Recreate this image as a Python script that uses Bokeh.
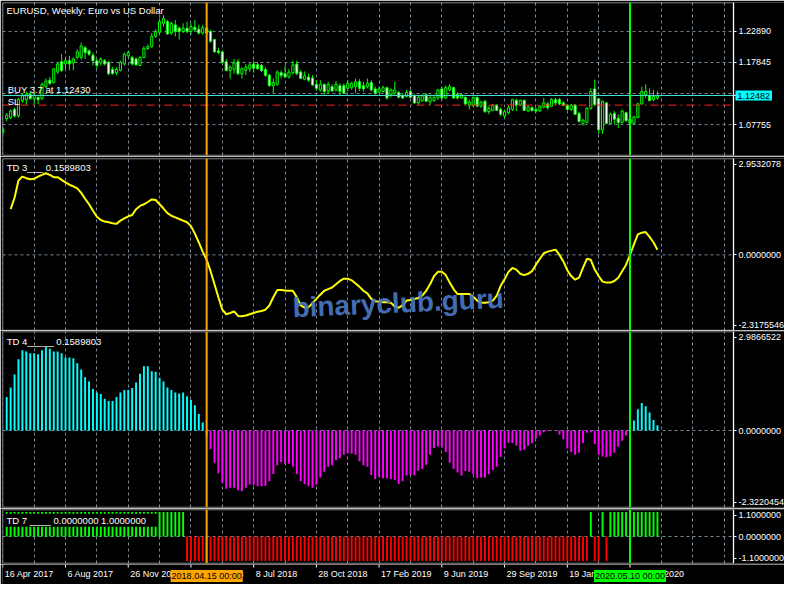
from bokeh.plotting import figure
from bokeh.layouts import column
from bokeh.models import Range1d, FixedTicker, Grid, Span, Label, BoxAnnotation
from bokeh.core.properties import value
from bokeh.embed import file_html
from bokeh.resources import INLINE

# ---------------- data (weekly EURUSD, bar index 0 = 16 Apr 2017) ----------------
opens = [1.0653, 1.0874, 1.0890, 1.1022, 1.0917, 1.1165, 1.1181, 1.1270, 1.1196, 1.1218,
         1.1196, 1.1392, 1.1497, 1.1460, 1.1629, 1.1798, 1.1761, 1.1814, 1.1777, 1.1867,
         1.1867, 1.2025, 1.1973, 1.1904, 1.1814, 1.1777, 1.1814, 1.1788, 1.1672, 1.1619,
         1.1656, 1.1761, 1.1893, 1.1867, 1.1841, 1.1735, 1.1867, 1.2010, 1.2041, 1.2210,
         1.2274, 1.2421, 1.2448, 1.2263, 1.2395, 1.2342, 1.2289, 1.2342, 1.2289, 1.2358,
         1.2326, 1.2263, 1.2342, 1.2289, 1.2157, 1.1973, 1.1957, 1.1798, 1.1656, 1.1672,
         1.1798, 1.1603, 1.1656, 1.1682, 1.1761, 1.1746, 1.1735, 1.1672, 1.1577, 1.1408,
         1.1429, 1.1619, 1.1603, 1.1550, 1.1619, 1.1761, 1.1629, 1.1513, 1.1550, 1.1534,
         1.1429, 1.1339, 1.1429, 1.1323, 1.1392, 1.1339, 1.1408, 1.1408, 1.1365, 1.1376,
         1.1392, 1.1471, 1.1408, 1.1392, 1.1460, 1.1355, 1.1302, 1.1313, 1.1376, 1.1260,
         1.1286, 1.1297, 1.1249, 1.1233, 1.1313, 1.1249, 1.1128, 1.1165, 1.1260, 1.1144,
         1.1165, 1.1207, 1.1355, 1.1207, 1.1339, 1.1376, 1.1270, 1.1207, 1.1218, 1.1091,
         1.1091, 1.1218, 1.1075, 1.1154, 1.0985, 1.1006, 1.1091, 1.1022, 1.0917, 1.0969,
         1.1022, 1.1170, 1.1091, 1.1170, 1.0996, 1.1049, 1.1022, 1.0996, 1.1059, 1.1112,
         1.1075, 1.1181, 1.1181, 1.1128, 1.1091, 1.1022, 1.1091, 1.0954, 1.0795, 1.0811,
         1.1038, 1.1355, 1.1196, 1.0690, 1.1128, 1.0795, 1.0954, 1.0880, 1.0811, 1.0969,
         1.0864, 1.0795, 1.0890, 1.1112, 1.1260, 1.1249, 1.1181, 1.1207]
highs = [1.0732, 1.0964, 1.1022, 1.1049, 1.1207, 1.1286, 1.1313, 1.1313, 1.1286, 1.1233,
         1.1460, 1.1524, 1.1550, 1.1693, 1.1788, 1.1920, 1.1851, 1.1893, 1.1867, 1.1999,
         1.2105, 1.2052, 1.1999, 1.1946, 1.1841, 1.1867, 1.1841, 1.1814, 1.1709, 1.1709,
         1.1814, 1.1946, 1.1973, 1.1893, 1.1867, 1.1883, 1.2052, 1.2078, 1.2263, 1.2326,
         1.2501, 1.2553, 1.2474, 1.2448, 1.2474, 1.2369, 1.2421, 1.2448, 1.2421, 1.2474,
         1.2395, 1.2395, 1.2369, 1.2316, 1.2168, 1.2025, 1.1973, 1.1841, 1.1735, 1.1841,
         1.1841, 1.1709, 1.1761, 1.1788, 1.1814, 1.1788, 1.1761, 1.1709, 1.1603, 1.1524,
         1.1656, 1.1656, 1.1735, 1.1682, 1.1814, 1.1814, 1.1656, 1.1640, 1.1603, 1.1577,
         1.1497, 1.1497, 1.1445, 1.1471, 1.1429, 1.1482, 1.1445, 1.1445, 1.1497, 1.1471,
         1.1524, 1.1513, 1.1471, 1.1524, 1.1497, 1.1392, 1.1392, 1.1408, 1.1392, 1.1365,
         1.1471, 1.1323, 1.1286, 1.1339, 1.1339, 1.1270, 1.1249, 1.1270, 1.1286, 1.1233,
         1.1260, 1.1355, 1.1392, 1.1408, 1.1429, 1.1392, 1.1302, 1.1286, 1.1233, 1.1181,
         1.1233, 1.1233, 1.1165, 1.1181, 1.1075, 1.1112, 1.1112, 1.1049, 1.1022, 1.1091,
         1.1196, 1.1196, 1.1181, 1.1181, 1.1091, 1.1075, 1.1049, 1.1091, 1.1207, 1.1144,
         1.1207, 1.1207, 1.1207, 1.1154, 1.1112, 1.1112, 1.1112, 1.0985, 1.0864, 1.1059,
         1.1365, 1.1508, 1.1207, 1.1165, 1.1144, 1.0969, 1.0996, 1.0943, 1.1022, 1.0985,
         1.0890, 1.0917, 1.1128, 1.1392, 1.1429, 1.1365, 1.1339, 1.1313]
lows = [1.0616, 1.0827, 1.0864, 1.0890, 1.0890, 1.1128, 1.1101, 1.1181, 1.1101, 1.1112,
        1.1181, 1.1365, 1.1418, 1.1445, 1.1603, 1.1629, 1.1682, 1.1656, 1.1656, 1.1841,
        1.1830, 1.1841, 1.1893, 1.1735, 1.1682, 1.1735, 1.1735, 1.1577, 1.1587, 1.1577,
        1.1640, 1.1735, 1.1867, 1.1735, 1.1735, 1.1724, 1.1851, 1.1988, 1.2025, 1.2184,
        1.2252, 1.2369, 1.2237, 1.2237, 1.2210, 1.2157, 1.2263, 1.2263, 1.2237, 1.2289,
        1.2237, 1.2237, 1.2237, 1.2105, 1.1946, 1.1920, 1.1761, 1.1640, 1.1524, 1.1603,
        1.1577, 1.1524, 1.1577, 1.1629, 1.1619, 1.1672, 1.1629, 1.1550, 1.1392, 1.1286,
        1.1408, 1.1524, 1.1534, 1.1524, 1.1587, 1.1577, 1.1513, 1.1497, 1.1471, 1.1408,
        1.1323, 1.1313, 1.1260, 1.1286, 1.1302, 1.1313, 1.1260, 1.1270, 1.1313, 1.1339,
        1.1286, 1.1323, 1.1313, 1.1365, 1.1313, 1.1260, 1.1286, 1.1302, 1.1181, 1.1218,
        1.1260, 1.1207, 1.1196, 1.1218, 1.1207, 1.1112, 1.1091, 1.1144, 1.1144, 1.1091,
        1.1144, 1.1181, 1.1181, 1.1196, 1.1313, 1.1196, 1.1181, 1.1196, 1.1091, 1.1022,
        1.1059, 1.1059, 1.1049, 1.0969, 1.0943, 1.0996, 1.0996, 1.0917, 1.0880, 1.0943,
        1.0996, 1.0996, 1.1075, 1.0996, 1.0985, 1.0985, 1.0969, 1.0985, 1.1038, 1.1022,
        1.1059, 1.1091, 1.1091, 1.1075, 1.1006, 1.0996, 1.0932, 1.0811, 1.0758, 1.0795,
        1.1022, 1.1075, 1.0626, 1.0626, 1.0785, 1.0785, 1.0785, 1.0721, 1.0795, 1.0827,
        1.0758, 1.0785, 1.0880, 1.1101, 1.1207, 1.1154, 1.1154, 1.1181]
closes = [1.0705, 1.0932, 1.0996, 1.0917, 1.1181, 1.1249, 1.1270, 1.1196, 1.1249, 1.1181,
          1.1429, 1.1482, 1.1445, 1.1682, 1.1761, 1.1656, 1.1814, 1.1761, 1.1841, 1.1957,
          1.2052, 1.1946, 1.1920, 1.1814, 1.1735, 1.1841, 1.1761, 1.1603, 1.1603, 1.1672,
          1.1788, 1.1920, 1.1946, 1.1761, 1.1746, 1.1867, 1.2010, 1.2041, 1.2210, 1.2289,
          1.2448, 1.2501, 1.2247, 1.2421, 1.2289, 1.2289, 1.2342, 1.2289, 1.2369, 1.2316,
          1.2263, 1.2353, 1.2263, 1.2131, 1.1957, 1.1946, 1.1788, 1.1656, 1.1709, 1.1777,
          1.1603, 1.1682, 1.1709, 1.1746, 1.1693, 1.1682, 1.1656, 1.1577, 1.1408, 1.1460,
          1.1629, 1.1577, 1.1550, 1.1629, 1.1746, 1.1603, 1.1524, 1.1566, 1.1497, 1.1418,
          1.1365, 1.1429, 1.1313, 1.1429, 1.1323, 1.1429, 1.1313, 1.1286, 1.1445, 1.1445,
          1.1471, 1.1365, 1.1355, 1.1445, 1.1339, 1.1286, 1.1355, 1.1376, 1.1207, 1.1339,
          1.1339, 1.1218, 1.1207, 1.1297, 1.1218, 1.1128, 1.1218, 1.1244, 1.1154, 1.1218,
          1.1218, 1.1339, 1.1207, 1.1376, 1.1392, 1.1207, 1.1207, 1.1260, 1.1112, 1.1144,
          1.1218, 1.1075, 1.1138, 1.0985, 1.1038, 1.1091, 1.1006, 1.0943, 1.0985, 1.1049,
          1.1181, 1.1091, 1.1170, 1.1006, 1.1059, 1.1006, 1.0996, 1.1075, 1.1128, 1.1049,
          1.1181, 1.1128, 1.1112, 1.1091, 1.1022, 1.1091, 1.0943, 1.0827, 1.0848, 1.1038,
          1.1313, 1.1101, 1.0690, 1.1154, 1.0795, 1.0943, 1.0864, 1.0811, 1.0996, 1.0837,
          1.0795, 1.0901, 1.1112, 1.1313, 1.1313, 1.1165, 1.1233, 1.1248]

# TD 3 line, bars 2..167
td3 = [1.40, 1.75, 2.28, 2.40, 2.35, 2.32, 2.33, 2.40, 2.45, 2.50,
       2.45, 2.38, 2.38, 2.30, 2.22, 2.15, 2.10, 2.04, 1.90, 1.72,
       1.55, 1.35, 1.17, 1.07, 1.02, 1.00, 0.97, 0.95, 1.05, 1.12,
       1.18, 1.22, 1.40, 1.50, 1.55, 1.62, 1.70, 1.68, 1.55, 1.42,
       1.28, 1.20, 1.15, 1.10, 1.05, 1.00, 0.88, 0.65, 0.38, 0.10,
       -0.15, -0.50, -0.90, -1.30, -1.68, -1.82, -1.78, -1.73, -1.87, -1.88,
       -1.86, -1.82, -1.78, -1.74, -1.72, -1.68, -1.55, -1.30, -1.08, -1.08,
       -1.09, -1.10, -1.10, -1.30, -1.55, -1.62, -1.60, -1.48, -1.35, -1.22,
       -1.10, -1.05, -1.00, -0.90, -0.80, -0.73, -0.73, -0.78, -0.88, -0.98,
       -1.10, -1.18, -1.35, -1.42, -1.43, -1.45, -1.45, -1.47, -1.58, -1.62,
       -1.55, -1.40, -1.38, -1.35, -1.32, -1.25, -1.10, -0.90, -0.65, -0.52,
       -0.52, -0.62, -0.85, -1.05, -1.20, -1.20, -1.20, -1.20, -1.28, -1.40,
       -1.47, -1.47, -1.45, -1.40, -1.25, -0.95, -0.75, -0.52, -0.40, -0.45,
       -0.58, -0.62, -0.58, -0.50, -0.30, -0.12, 0.05, 0.10, 0.13, 0.16,
       0.00, -0.20, -0.47, -0.65, -0.76, -0.70, -0.40, -0.12, -0.15, -0.45,
       -0.65, -0.82, -0.85, -0.85, -0.80, -0.70, -0.50, -0.30, 0.00, 0.32,
       0.63, 0.68, 0.70, 0.55, 0.38, 0.16]

# TD 4 histogram, bars 1..167
td4 = [1.01, 1.30, 1.69, 2.15, 2.42, 2.38, 2.33, 2.33, 2.30, 2.42,
       2.52, 2.47, 2.38, 2.38, 2.33, 2.20, 2.20, 2.18, 2.03, 1.84,
       1.61, 1.48, 1.25, 1.15, 1.10, 0.96, 0.89, 0.89, 1.01, 1.15,
       1.22, 1.22, 1.28, 1.45, 1.71, 1.94, 1.94, 1.79, 1.77, 1.59,
       1.48, 1.30, 1.22, 1.15, 1.12, 1.15, 1.03, 0.93, 0.76, 0.50,
       0.24, -0.15, -0.56, -0.97, -1.29, -1.58, -1.76, -1.73, -1.73, -1.80,
       -1.83, -1.73, -1.63, -1.65, -1.68, -1.68, -1.67, -1.53, -1.31, -1.05,
       -0.95, -1.00, -1.00, -1.09, -1.32, -1.53, -1.61, -1.68, -1.73, -1.63,
       -1.42, -1.24, -1.09, -1.05, -0.90, -0.83, -0.73, -0.68, -0.70, -0.73,
       -0.93, -1.05, -1.09, -1.34, -1.46, -1.39, -1.44, -1.44, -1.46, -1.49,
       -1.61, -1.53, -1.36, -1.34, -1.36, -1.21, -1.16, -1.03, -0.73, -0.53,
       -0.48, -0.51, -0.65, -0.97, -1.16, -1.27, -1.36, -1.22, -1.24, -1.32,
       -1.44, -1.42, -1.42, -1.32, -1.19, -1.09, -0.80, -0.54, -0.38, -0.38,
       -0.46, -0.61, -0.58, -0.46, -0.38, -0.24, -0.15, -0.05, -0.02, -0.01,
       -0.01, -0.12, -0.26, -0.54, -0.65, -0.73, -0.67, -0.38, -0.07, -0.05,
       -0.41, -0.73, -0.78, -0.81, -0.78, -0.67, -0.48, -0.31, -0.15, 0.05,
       0.30, 0.64, 0.83, 0.73, 0.54, 0.32, 0.16]

# TD 7 signal, bars 1..167
td7 = [1, 1, 1, 1, 1, 1, 1, 1, 1, 1, 1, 1, 1, 1, 1, 1, 1, 1, 1, 1,
       1, 1, 1, 1, 1, 1, 1, 1, 1, 1, 1, 1, 1, 1, 1, 1, 1, 1, 1, 1,
       1, 1, 1, 1, 1, 1, -1, -1, -1, -1, -1, -1, -1, -1, -1, -1, -1, -1, -1, -1,
       -1, -1, -1, -1, -1, -1, -1, -1, -1, -1, -1, -1, -1, -1, -1, -1, -1, -1, -1, -1,
       -1, -1, -1, -1, -1, -1, -1, -1, -1, -1, -1, -1, -1, -1, -1, -1, -1, -1, -1, -1,
       -1, -1, -1, -1, -1, -1, -1, -1, -1, -1, -1, -1, -1, -1, -1, -1, -1, -1, -1, -1,
       -1, -1, -1, -1, -1, -1, -1, -1, -1, -1, -1, -1, -1, -1, -1, -1, -1, -1, -1, -1,
       -1, -1, -1, -1, -1, -1, -1, -1, -1, 1, -1, -1, 1, -1, 1, 1, 1, 1, 1, 1,
       1, 1, 1, 1, 1, 1, 1]

price_ticks = [1.22890, 1.17845, 1.12482, 1.07755]
price_tick_labels = ["1.22890", "1.17845", "1.12482", "1.07755"]
price_grid = [1.22890, 1.17845, 1.12800, 1.07755]
bid_price = 1.12482
bid_text = "1.12482"
sl_price = 1.1092
td3_axis_labels = ["2.9532078", "0.0000000", "-2.3175546"]
td4_axis_labels = ["2.9866522", "0.0000000", "-2.3220454"]
td7_axis_labels = ["1.1000000", "0.0000000", "-1.1000000"]
date_ticks = [0, 16, 32, 48, 64, 80, 96, 112, 128, 144, 160]
date_labels = ["16 Apr 2017", "6 Aug 2017", "26 Nov 2017", "18 Mar 2018", "8 Jul 2018",
               "28 Oct 2018", "17 Feb 2019", "9 Jun 2019", "29 Sep 2019", "19 Jan 2020",
               "10 May 2020"]
orange_bar, orange_text = 52, "2018.04.15 00:00"
green_bar, green_text = 160, "2020.05.10 00:00"

# ---------------- styling ----------------
FONT = "Liberation Sans"
GRID = "#778899"
LIME = "#00FF00"
FW = 782                      # frame covers chart area + price scale
X0, X1 = -0.075, 186.4        # chart area (bars)
XEND = 199.41                 # right edge of the price-scale strip
xr = Range1d(X0, XEND)


def make_fig(fh, yr, top_b, bot_b):
    p = figure(frame_width=FW, frame_height=fh, x_range=xr, y_range=yr,
               output_backend="svg", toolbar_location=None,
               x_axis_location=None, y_axis_location="right",
               min_border_left=2, min_border_right=0, min_border_top=top_b,
               min_border_bottom=bot_b, background_fill_color="black",
               border_fill_color="black", outline_line_color=None)
    p.grid.visible = False
    p.add_layout(Grid(dimension=0, ticker=FixedTicker(ticks=list(range(0, 185, 8))),
                      grid_line_color=GRID, grid_line_dash="3 3", grid_line_width=1))
    ax = p.yaxis[0]
    ax.fixed_location = X1
    ax.axis_line_color = "white"
    ax.major_tick_line_color = "white"
    ax.major_tick_out = 3
    ax.major_tick_in = 0
    ax.minor_tick_line_color = None
    ax.major_label_text_color = "white"
    ax.major_label_text_font = FONT
    ax.major_label_text_font_size = "9px"
    ax.major_label_standoff = 2
    p.add_layout(BoxAnnotation(left=X0, right=X1, fill_alpha=0, line_color="white",
                               line_width=2))
    return p


def hgrid(p, levels):
    n = len(levels)
    p.segment(x0=[X0] * n, x1=[X1] * n, y0=levels, y1=levels, line_color=GRID,
              line_dash="3 3", line_width=1)


def inset_axis(p, lo, hi, fh, labels):
    u = (hi - lo) / fh * 5.5
    ticks = [hi - u, 0.0, lo + u]
    p.yaxis[0].ticker = FixedTicker(ticks=ticks)
    p.yaxis[0].major_label_overrides = {t: s for t, s in zip(ticks, labels)}


def vlines(p):
    p.add_layout(Span(location=orange_bar, dimension="height", line_color="#FFA500", line_width=2))
    p.add_layout(Span(location=green_bar, dimension="height", line_color=LIME, line_width=2))


def text(p, x, y, s, size="9.5px", color="white", **kw):
    p.add_layout(Label(x=x, y=y, text=s, text_color=color, text_font=FONT,
                       text_font_size=size, **kw))


# ---- panel 1: candles ----
Y1 = (1.02736, 1.27592)
f1 = make_fig(153, Range1d(*Y1), 2, 1)
hgrid(f1, price_grid)
f1.yaxis[0].ticker = FixedTicker(ticks=price_ticks)
f1.yaxis[0].major_label_overrides = {t: s for t, s in zip(price_ticks, price_tick_labels)}
idx = list(range(len(opens)))
body_top = [max(o, c) for o, c in zip(opens, closes)]
body_bot = [min(o, c) for o, c in zip(opens, closes)]
body_fill = ["black" if c >= o else "white" for o, c in zip(opens, closes)]
f1.segment(x0=idx, y0=lows, x1=idx, y1=highs, line_color=LIME, line_width=1)
f1.vbar(x=idx, width=0.55, top=body_top, bottom=body_bot, fill_color=body_fill,
        line_color=LIME, line_width=1)
f1.segment(x0=[X0], x1=[X1], y0=[bid_price], y1=[bid_price], line_color="#40E0D0", line_width=1)
f1.segment(x0=[X0], x1=[X1], y0=[sl_price], y1=[sl_price], line_color="#FF2020", line_width=1,
           line_dash="8 4 2 4")
vlines(f1)
text(f1, 0.93, 1.2720, "EURUSD, Weekly:  Euro vs US Dollar", text_baseline="top")
text(f1, 1.25, 1.1437, "BUY 3.7 at 1.12430", text_baseline="top")
text(f1, 1.25, 1.1247, "SL", text_baseline="top")
f1.add_layout(Label(x=X1 + 0.5, y=bid_price, text=bid_text, text_color="black", text_font=FONT,
                    text_font_size="9px", text_baseline="middle", text_align="left",
                    background_fill_color="#00FFFF", padding=2))

# ---- panel 2: TD 3 line ----
y2 = (-2.3175546, 2.9532078)
f2 = make_fig(172, Range1d(*y2), 2, 0)
hgrid(f2, [0.0])
inset_axis(f2, y2[0], y2[1], 172, td3_axis_labels)
f2.line(x=list(range(2, 2 + len(td3))), y=td3, line_color="#FFFF00", line_width=2)
vlines(f2)
text(f2, 1.0, 2.85, "TD 3___   0.1589803", text_baseline="top")
f2.add_layout(Label(x=73.9, y=-1.62, text="binaryclub.guru", text_color="#4A78C4",
                    text_alpha=0.92, text_font=FONT, text_font_style="bold",
                    text_font_size="28px", angle=0.045, text_baseline="alphabetic"))

# ---- panel 3: TD 4 histogram ----
y3 = (-2.3220454, 2.9866522)
f3 = make_fig(176, Range1d(*y3), 1, 1)
hgrid(f3, [0.0])
inset_axis(f3, y3[0], y3[1], 176, td4_axis_labels)
x4 = list(range(1, 1 + len(td4)))
f3.vbar(x=x4, width=0.5, top=td4, bottom=0,
        fill_color=["#00FFFF" if v >= 0 else "#FF00FF" for v in td4], line_color=None)
vlines(f3)
text(f3, 1.0, 2.86, "TD 4_____   0.1589803", text_baseline="top")

# ---- panel 4: TD 7 signal ----
y4 = (-1.1, 1.1)
f4 = make_fig(54, Range1d(*y4), 1, 1)
hgrid(f4, [0.0])
inset_axis(f4, y4[0], y4[1], 54, td7_axis_labels)
x7 = list(range(1, 1 + len(td7)))
f4.vbar(x=x7, width=0.5, top=td7, bottom=0,
        fill_color=[LIME if v > 0 else "#FF0000" for v in td7], line_color=None)
vlines(f4)
f4.add_layout(Label(x=0.7, y=0.93, text="TD 7   ____   0.0000000 1.0000000", text_color="white",
                    text_font=FONT, text_font_size="9.5px", text_baseline="top",
                    background_fill_color="black", padding=1))

# ---- time scale strip ----
f5 = figure(frame_width=FW, frame_height=20, x_range=xr, y_range=Range1d(0, 20),
            output_backend="svg", toolbar_location=None, x_axis_location=None,
            y_axis_location=None, min_border_left=2, min_border_right=0,
            min_border_top=0, min_border_bottom=0, background_fill_color="black",
            border_fill_color="black", outline_line_color=None)
f5.grid.visible = False
f5.segment(x0=date_ticks, y0=[20] * len(date_ticks), x1=date_ticks, y1=[17] * len(date_ticks),
           line_color="white", line_width=1)
f5.text(x=[t + 0.5 for t in date_ticks], y=[16] * len(date_ticks), text=date_labels,
        text_color="white", text_font=value(FONT), text_font_size=value("9px"),
        text_align="left", text_baseline="top")
f5.add_layout(Label(x=orange_bar, y=8.5, text=orange_text, text_color="black", text_font=FONT,
                    text_font_size="9px", text_align="center", text_baseline="middle",
                    background_fill_color="#FFA500", padding=1))
f5.add_layout(Label(x=green_bar, y=8.5, text=green_text, text_color="black", text_font=FONT,
                    text_font_size="9px", text_align="center", text_baseline="middle",
                    background_fill_color=LIME, padding=1))

layout = column(f1, f2, f3, f4, f5, spacing=0)
open("out.html", "w").write(file_html(layout, INLINE, title="EURUSD Weekly"))
